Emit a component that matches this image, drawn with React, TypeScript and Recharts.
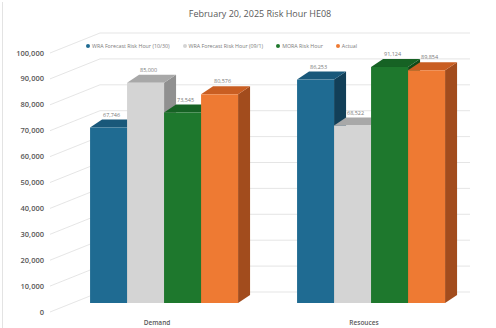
import React from 'react';
import { BarChart, Bar, XAxis, YAxis, CartesianGrid, Legend, LabelList } from 'recharts';

const categories = ['Demand', 'Resouces'];
const forecastOct = [67746, 86253];
const forecastSep = [85000, 68522];
const mornRisk = [73545, 91124];
const actual = [80576, 89854];
const yTicks = [0, 10000, 20000, 30000, 40000, 50000, 60000, 70000, 80000, 90000, 100000];

const series = [
  { key: 'forecastOct', name: 'WRA Forecast Risk Hour (10/30)', front: '#1f6b92', top: '#19587a', side: '#123f58' },
  { key: 'forecastSep', name: 'WRA Forecast Risk Hour (09/1)', front: '#d4d4d4', top: '#a8a8a8', side: '#909090' },
  { key: 'mornRisk', name: 'MORA Risk Hour', front: '#1e782d', top: '#166224', side: '#0f4a19' },
  { key: 'actual', name: 'Actual', front: '#ee7a33', top: '#c95e22', side: '#a24c1d' },
];

const data = categories.map((name, i) => ({
  name,
  forecastOct: forecastOct[i],
  forecastSep: forecastSep[i],
  mornRisk: mornRisk[i],
  actual: actual[i],
}));

// depth of the extruded bars / walls
const DX = 12;
const DY = 8;
const GRID = '#dedede';
const FONT = '"Open Sans", "Noto Sans", sans-serif';

const make3DBar = (c: any) => (props: any) => {
  const { x, y, width, height } = props;
  const r = x + width;
  const b = y + height;
  return (
    <g>
      <polygon points={`${r},${y} ${r + DX},${y - DY} ${r + DX},${b - DY} ${r},${b}`} fill={c.side} />
      <polygon points={`${x},${y} ${x + DX},${y - DY} ${r + DX},${y - DY} ${r},${y}`} fill={c.top} />
      <rect x={x} y={y} width={width} height={height} fill={c.front} />
    </g>
  );
};

const ValueLabel = (props: any) => {
  const { x, y, width, value } = props;
  return (
    <text x={x + width / 2 + 3} y={y - DY - 3} textAnchor="middle" fontSize={5.5} fill="#7a7a7a" fontFamily={FONT}>
      {value.toLocaleString('en-US')}
    </text>
  );
};

// back wall gridlines plus the floor/side diagonals
const GridLine = (props: any) => {
  const { y1, index } = props;
  return (
    <g key={`g-${index}`}>
      <line x1={50} y1={y1 + 9} x2={100} y2={y1 - 11} stroke={GRID} strokeWidth={0.8} />
      <line x1={100} y1={y1 - 11} x2={470} y2={y1 - 11} stroke={GRID} strokeWidth={0.8} />
    </g>
  );
};

const YTick = (props: any) => {
  const { y, payload } = props;
  return (
    <text x={44} y={y + 11.5} textAnchor="end" fontSize={7.5} fontWeight={600} fill="#595959" fontFamily={FONT}>
      {payload.value.toLocaleString('en-US')}
    </text>
  );
};

const XTick = (props: any) => {
  const { x, payload } = props;
  return (
    <text x={x - 8} y={325} textAnchor="middle" fontSize={6.5} fontWeight={600} fill="#595959" fontFamily={FONT}>
      {payload.value}
    </text>
  );
};

const LegendContent = () => (
  <div style={{ display: 'flex', alignItems: 'center', fontSize: 5.3, color: '#7a7a7a', fontFamily: FONT, whiteSpace: 'nowrap' }}>
    {series.map((s) => (
      <div key={s.key} style={{ display: 'flex', alignItems: 'center', marginRight: 13 }}>
        <span style={{ width: 4, height: 4, borderRadius: 2, background: s.front, marginRight: 2 }} />
        <span>{s.name}</span>
      </div>
    ))}
  </div>
);

export default function App() {
  return (
    <div style={{ position: 'absolute', left: 0, top: 0, width: 496, height: 328, background: '#fff', fontFamily: FONT }}>
      <div style={{ position: 'absolute', left: 2, top: 2, width: 1, height: 326, background: '#e3e3e3' }} />
      <div style={{ position: 'absolute', left: 0, width: 520, top: 7, textAlign: 'center', fontSize: 9, color: '#595959' }}>
        February 20, 2025 Risk Hour HE08
      </div>
      <BarChart
        width={496}
        height={328}
        data={data}
        margin={{ top: 44, right: 20.5, left: 6.5, bottom: 0 }}
        barGap={0}
        barCategoryGap="13.8%"
      >
        <CartesianGrid vertical={false} horizontal={GridLine as any} />
        <XAxis dataKey="name" height={25} axisLine={false} tickLine={false} tick={<XTick />} />
        <YAxis width={55} domain={[0, 100000]} ticks={yTicks} axisLine={false} tickLine={false} tick={<YTick />} />
        <Legend
          verticalAlign="middle"
          content={<LegendContent />}
          wrapperStyle={{ top: 42, left: 86, width: 320, height: 8 }}
        />
        {series.map((s) => (
          <Bar key={s.key} dataKey={s.key} name={s.name} fill={s.front} shape={make3DBar(s)} isAnimationActive={false}>
            <LabelList dataKey={s.key} content={<ValueLabel />} />
          </Bar>
        ))}
      </BarChart>
    </div>
  );
}
